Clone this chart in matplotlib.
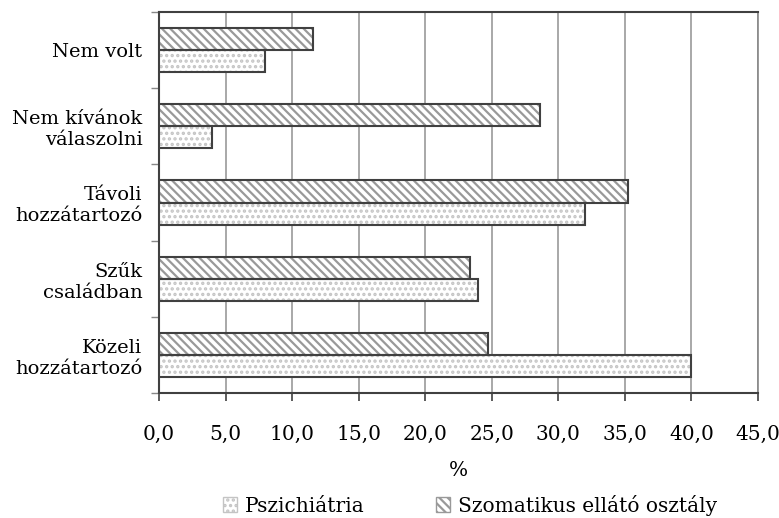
import numpy as np
import matplotlib.pyplot as plt
from matplotlib.patches import Patch

categories = ['Nem volt', 'Nem kívánok\nválaszolni', 'Távoli\nhozzátartozó',
              'Szűk\ncsaládban', 'Közeli\nhozzátartozó']
pszichiatria = [8.0, 4.0, 32.0, 24.0, 40.0]
szomatikus = [11.6, 28.6, 35.2, 23.4, 24.7]
xticks = np.arange(0, 50, 5)

plt.rcParams['font.family'] = 'DejaVu Serif'
plt.rcParams['hatch.linewidth'] = 1.6

fig = plt.figure(figsize=(7.79, 5.18), dpi=100)
ax = fig.add_axes([159/779, 1-393/518, 599/779, 381/518])

y = np.arange(len(categories))
h = 0.29
edge = '#404040'
sz_hatch, sz_col = '\\\\\\\\', '#999999'
ps_hatch, ps_col = '...', '#c4c4c4'

# hatch layer (hatch takes edge colour), then outline on top
ax.barh(y - h/2, szomatikus, height=h, color='white', edgecolor=sz_col,
        hatch=sz_hatch, linewidth=0, zorder=3)
ax.barh(y - h/2, szomatikus, height=h, fill=False, edgecolor=edge,
        linewidth=1.5, zorder=4)
ax.barh(y + h/2, pszichiatria, height=h, color='white', edgecolor=ps_col,
        hatch=ps_hatch, linewidth=0, zorder=3)
ax.barh(y + h/2, pszichiatria, height=h, fill=False, edgecolor=edge,
        linewidth=1.5, zorder=4)

ax.set_xlim(0, 45)
ax.set_ylim(len(categories) - 0.5, -0.5)
ax.set_xticks(xticks)
ax.set_xticklabels([('%.1f' % v).replace('.', ',') for v in xticks])
ax.tick_params(axis='x', direction='out', length=6, width=1.2, color=edge,
               labelsize=14.5, pad=17)

ax.set_yticks(y)
ax.set_yticklabels(categories, ha='right', multialignment='right')
ax.tick_params(axis='y', which='major', length=0, labelsize=14, pad=12)
ax.set_yticks(np.arange(-0.5, len(categories), 1), minor=True)
ax.tick_params(axis='y', which='minor', direction='out', length=6,
               width=1, color='#888888')

ax.grid(axis='x', color='#999999', linewidth=1.2, zorder=0)
for side in ['left', 'bottom', 'top']:
    ax.spines[side].set_color(edge)
    ax.spines[side].set_linewidth(1.5)
ax.spines['right'].set_color('#888888')
ax.spines['right'].set_linewidth(1.2)

ax.set_xlabel('%', fontsize=14.5, labelpad=12)

handles = [Patch(facecolor='white', edgecolor=ps_col, hatch=ps_hatch, linewidth=1),
           Patch(facecolor='white', edgecolor=sz_col, hatch=sz_hatch, linewidth=1)]
fig.legend(handles, ['Pszichiátria', 'Szomatikus ellátó osztály'],
           loc='center', bbox_to_anchor=(470/779, 1-505/518), ncol=2,
           frameon=False, fontsize=14.5, handlelength=0.7, handleheight=0.7,
           handletextpad=0.4, columnspacing=3.5)

fig.savefig('out.png', dpi=100)
